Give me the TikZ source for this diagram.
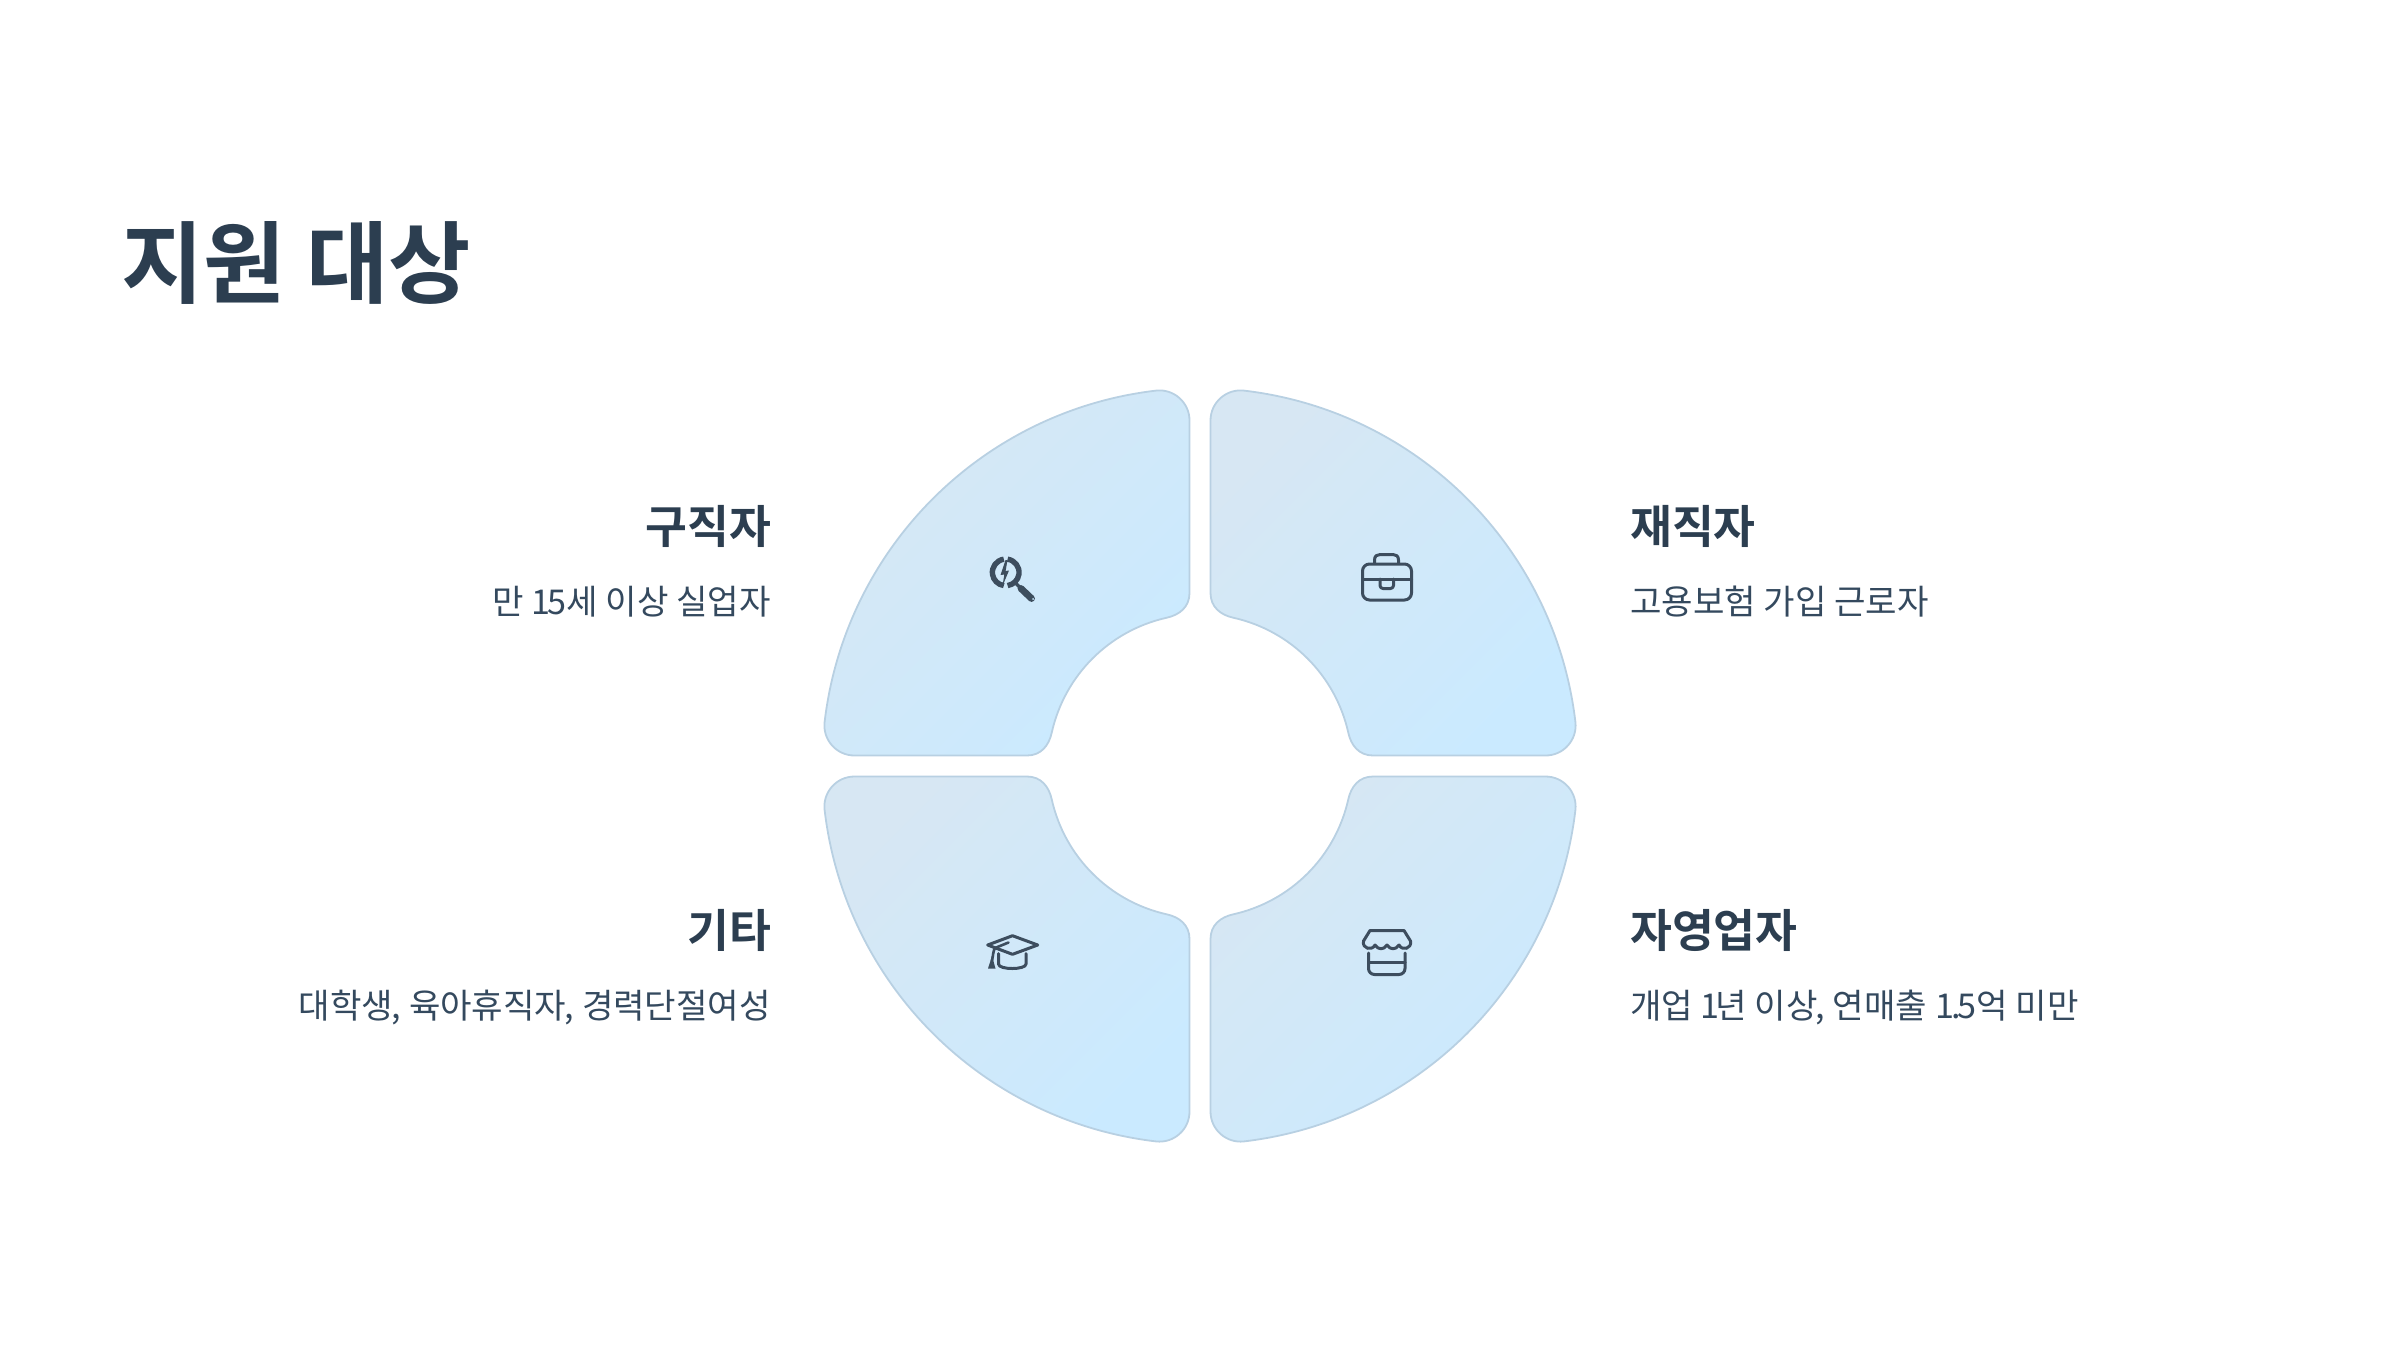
\documentclass[tikz,border=0pt]{standalone}
\usepackage{fontspec}
\setmainfont{Noto Sans CJK KR}
\newfontfamily\krbold{Noto Sans CJK KR Bold}
\definecolor{ink}{HTML}{2C3E50}
\definecolor{subink}{HTML}{34495E}
\definecolor{segedge}{HTML}{B8D0E2}
\definecolor{seglight}{HTML}{D7E7F3}
\definecolor{segdeep}{HTML}{CAEAFF}
\tikzset{
  seg/.style={draw=segedge,line width=1.8pt,top color=seglight,bottom color=segdeep,shading angle=45},
  icon/.style={draw=ink!92!white,line width=3pt,line cap=round,line join=round},
  headtext/.style={inner sep=0pt,text=ink,font=\krbold\fontsize{45.5}{50}\selectfont},
  subtext/.style={inner sep=0pt,text=subink,font=\fontsize{34.2}{40}\selectfont},
  titletext/.style={inner sep=0pt,text=ink,font=\krbold\fontsize{89.5}{100}\selectfont,anchor=base west}
}
\newcommand{\quadseg}[2]{%
  \path[seg,shift={(1200,766)},xscale=#1,yscale=#2]
    (10.5,345.6) .. controls (10.5,363.5) and (26.2,377.5) .. (44,375.4)
    .. controls (217.8,355) and (355,217.8) .. (375.4,44)
    .. controls (377.5,26.2) and (363.5,10.5) .. (345.6,10.5)
    -- (173,10.5)
    .. controls (159,10.5) and (151.1,20.5) .. (148.3,33.2)
    .. controls (135.5,90.7) and (90.7,135.5) .. (33.2,148.3)
    .. controls (20.5,151.1) and (10.5,159) .. (10.5,173)
    -- cycle;}
\begin{document}
\begin{tikzpicture}[x=1pt,y=-1pt]
\useasboundingbox (0,0) rectangle (2400,1350);
\quadseg{1}{-1}
\quadseg{-1}{-1}
\quadseg{1}{1}
\quadseg{-1}{1}
\node[titletext] (title) at (121,296) {지원 대상};
\node[headtext,anchor=base east] (h1) at (771.5,543) {구직자};
\node[subtext,anchor=base east] (s1) at (771,614) {만 1\kern-3pt 5세 이상 실업자};
\node[headtext,anchor=base west] (h2) at (1630,543) {재직자};
\node[subtext,anchor=base west] (s2) at (1630,614) {고용보험 가입 근로자};
\node[headtext,anchor=base east] (h3) at (771.5,947) {기타};
\node[subtext,anchor=base east] (s3) at (771,1018) {대학생\kern-1.5pt, 육아휴직자\kern-1.5pt, 경력단절여성};
\node[headtext,anchor=base west] (h4) at (1630,947) {자영업자};
\node[subtext,anchor=base west] (s4) at (1630,1018) {개업 1\kern-4pt 년 이상\kern-2pt, 연매출 1\kern-3pt .\kern-3pt 5억 미만};
% search icon
\draw[icon,line width=5.4pt,line cap=butt] (1003.8,559.2) arc[start angle=-98,end angle=-262,radius=13.3];
\draw[icon,line width=5.4pt,line cap=butt] (1007.6,559.2) arc[start angle=-82,end angle=82,radius=13.3];
\fill[ink!92!white] (1005.5,560) -- (1000.5,575) -- (1004.3,574.5) -- (1002.5,586) -- (1009,570.5) -- (1005.6,571) -- (1007.5,560) -- cycle;
\draw[ink!92!white,line width=3.4pt] (1016,583.5) -- (1022,589.5);
\draw[ink!92!white,line width=6.8pt,line cap=round] (1021,588.5) -- (1031.5,598.5);
\fill[segdeep] (1033,599) circle[radius=1];
% briefcase icon
\draw[icon] (1374.5,563) -- (1374.5,560) .. controls (1374.5,556) and (1377,554.5) .. (1380,554.5) -- (1393,554.5) .. controls (1396,554.5) and (1398.5,556) .. (1398.5,560) -- (1398.5,563);
\draw[icon,rounded corners=7pt] (1362.5,564) rectangle (1411.5,600);
\draw[icon] (1362.5,579) -- (1411.5,579);
\draw[icon,rounded corners=3pt] (1380,579) -- (1380,588.5) -- (1393.5,588.5) -- (1393.5,579);
% store icon
\draw[icon] (1370,930.5) -- (1404,930.5) -- (1410.5,941) .. controls (1412,949) and (1402,951) .. (1399,945) .. controls (1396,950) and (1390,950) .. (1387,945) .. controls (1384,950) and (1378,950) .. (1375,945) .. controls (1372,951) and (1362,949) .. (1363.5,941) -- cycle;
\draw[icon,rounded corners=6pt] (1368.5,953) -- (1368.5,974.5) -- (1405,974.5) -- (1405,953);
\draw[icon] (1368.5,962.5) -- (1405,962.5);
% graduation cap icon
\draw[icon] (1012.5,935.7) -- (1037.7,945) -- (1012.5,954.3) -- (987.7,945) -- cycle;
\draw[icon,line width=2.6pt] (1008.5,942.5) -- (995,948) .. controls (993.5,950) and (993,955) .. (992,961);
\fill[ink!92!white] (992,956) -- (988,968.5) -- (995.5,968.5) -- cycle;
\draw[icon] (998.5,953.5) -- (998.5,964) .. controls (998.5,970) and (1026,970) .. (1026,964) -- (1026,953.5);
\end{tikzpicture}
\end{document}
